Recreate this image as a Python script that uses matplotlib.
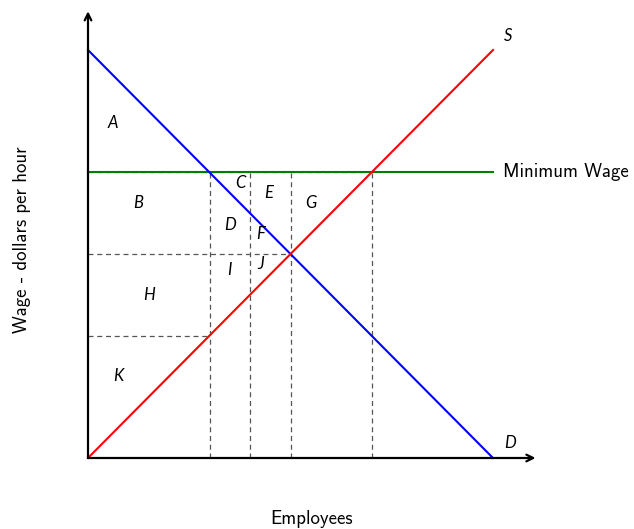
import matplotlib
matplotlib.use("Agg")
import matplotlib.pyplot as plt

plt.rcParams['font.family'] = ['cmss10', 'Lato', 'DejaVu Sans']

# Data
demand_x = [0, 10]
demand_y = [10, 0]
supply_x = [0, 10]
supply_y = [0, 10]
min_wage = 7
min_wage_end = 10.0
eq_wage = 5
low_wage = 3
quantity_marks = [3, 4, 5, 7]
region_labels = ['A', 'B', 'C', 'D', 'E', 'F', 'G', 'H', 'I', 'J', 'K']
region_x = [0.6, 1.23, 3.75, 3.5, 4.47, 4.25, 5.5, 1.5, 3.5, 4.25, 0.75]
region_y = [8.2, 6.25, 6.75, 5.7, 6.5, 5.5, 6.25, 4.0, 4.6, 4.75, 2.0]

W, H = 634, 529
fig = plt.figure(figsize=(W / 100, H / 100), dpi=100)
ax = fig.add_axes([0, 0, 1, 1])
ax.axis('off')
x0, sx = 88, 40.5
y0, sy = 458, 40.8
ax.set_xlim(-x0 / sx, (W - x0) / sx)
ax.set_ylim(-(H - y0) / sy, y0 / sy)

dash_kw = dict(color='#555555', lw=0.9, ls=(0, (4, 3)), zorder=1)
for q in quantity_marks:
    ax.plot([q, q], [0, min_wage], **dash_kw)
ax.plot([0, eq_wage], [eq_wage, eq_wage], **dash_kw)
ax.plot([0, low_wage], [low_wage, low_wage], **dash_kw)
ax.plot([0, min_wage], [min_wage, min_wage], **dash_kw)

ax.plot([0, min_wage_end], [min_wage, min_wage], color='#008000', lw=1.5, zorder=2)
ax.plot(demand_x, demand_y, color='blue', lw=1.5, zorder=3)
ax.plot(supply_x, supply_y, color='red', lw=1.5, zorder=3)

# axes with arrows
ax.annotate('', xy=(0, 10.95), xytext=(0, 0),
            arrowprops=dict(arrowstyle='->', lw=1.6, color='black', shrinkA=0, shrinkB=0,
                            mutation_scale=12), zorder=4)
ax.annotate('', xy=(11.05, 0), xytext=(0, 0),
            arrowprops=dict(arrowstyle='->', lw=1.6, color='black', shrinkA=0, shrinkB=0,
                            mutation_scale=12), zorder=4)

fs_it = 12
it_kw = dict(fontsize=fs_it, style='italic', ha='center', va='center',
             family=['Lato', 'DejaVu Sans'])
for lab, x, y in zip(region_labels, region_x, region_y):
    ax.text(x, y, lab, **it_kw)
ax.text(10.37, 10.34, 'S', **it_kw)
ax.text(10.42, 0.37, 'D', **it_kw)

fs = 11
t_mw = ax.text((503 - x0) / sx, min_wage, 'Minimum Wage', fontsize=fs, ha='left', va='center')
t_y = ax.text((22 - x0) / sx, (y0 - 240) / sy, 'Wage - dollars per hour', fontsize=fs,
              rotation=90, ha='center', va='center')
t_x = ax.text((311.5 - x0) / sx, (y0 - 519) / sy, 'Employees', fontsize=fs,
              ha='center', va='center')

# fit one common font size to the reference text extents (pixels)
fig.canvas.draw()
r = fig.canvas.get_renderer()
sizes = []
for t, target in [(t_mw, 129), (t_x, 81)]:
    bb = t.get_window_extent(r)
    sizes.append(fs * target / bb.width)
common = sum(sizes) / len(sizes)
for t in (t_mw, t_y, t_x):
    t.set_fontsize(common)

fig.savefig('out.png', dpi=100)
